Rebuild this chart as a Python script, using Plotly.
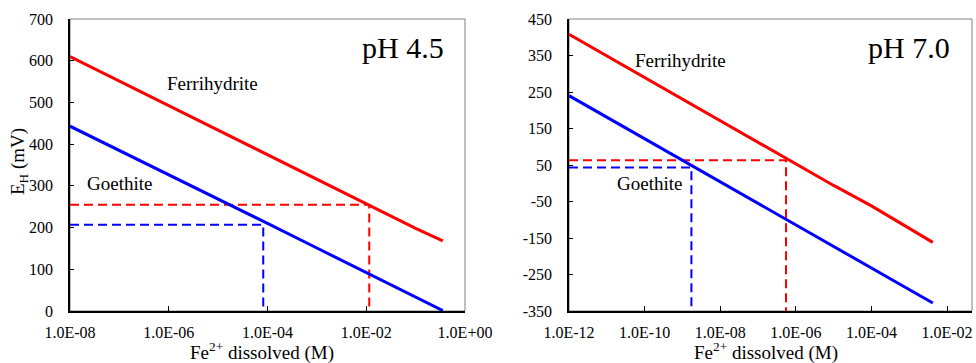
import plotly.graph_objects as go

# ---------------- data ----------------
# pH 4.5 panel
fe_45 = [1e-8, 1e-7, 1e-6, 1e-5, 1e-4, 1e-3, 1e-2, 1e-1, 0.355]
ferri_45 = [610, 551, 492, 433, 375, 316, 257, 198, 168]
goe_45 = [443, 385, 326, 268, 210, 151, 92, 34, 1]
ferri_45_pt = (0.0115, 255)
goe_45_pt = (8.2e-5, 207)

# pH 7.0 panel
fe_70 = [1e-12, 1e-11, 1e-10, 1e-9, 1e-8, 1e-7, 1e-6, 1e-5, 1e-4, 1e-3, 4.2e-3]
ferri_70 = [408, 349, 290, 230, 171, 112, 53, -6, -62, -124, -162]
goe_70 = [240, 181, 122, 63, 4, -55, -114, -172, -231, -290, -328]
ferri_70_pt = (5.5e-7, 63)
goe_70_pt = (1.73e-9, 43)

x45_ticks = [1e-8, 1e-6, 1e-4, 1e-2, 1e0]
x45_text = ["1.0E-08", "1.0E-06", "1.0E-04", "1.0E-02", "1.0E+00"]
x70_ticks = [1e-12, 1e-10, 1e-8, 1e-6, 1e-4, 1e-2]
x70_text = ["1.0E-12", "1.0E-10", "1.0E-08", "1.0E-06", "1.0E-04", "1.0E-02"]
y45_ticks = [0, 100, 200, 300, 400, 500, 600, 700]
y70_ticks = [-350, -250, -150, -50, 50, 150, 250, 350, 450]

RED = "#FF0000"
BLUE = "#0000FF"
FONT = "Liberation Serif, Times New Roman, serif"
W, H = 976, 363
T, B = 19, 52
PH = H - T - B

fig = go.Figure()

def solid(x, y, color, xa, ya):
    fig.add_trace(go.Scatter(x=x, y=y, mode="lines", line=dict(color=color, width=3),
                             xaxis=xa, yaxis=ya, showlegend=False, hoverinfo="skip"))

def dashed(xs, ys, color, xa, ya):
    fig.add_trace(go.Scatter(x=xs, y=ys, mode="lines",
                             line=dict(color=color, width=2, dash="9px,5px"),
                             xaxis=xa, yaxis=ya, showlegend=False, hoverinfo="skip"))

# left panel
dashed([fe_45[0], ferri_45_pt[0], ferri_45_pt[0]], [ferri_45_pt[1], ferri_45_pt[1], y45_ticks[0]], RED, "x", "y")
dashed([fe_45[0], goe_45_pt[0], goe_45_pt[0]], [goe_45_pt[1], goe_45_pt[1], y45_ticks[0]], BLUE, "x", "y")
solid(fe_45, ferri_45, RED, "x", "y")
solid(fe_45, goe_45, BLUE, "x", "y")

# right panel
dashed([fe_70[0], ferri_70_pt[0], ferri_70_pt[0]], [ferri_70_pt[1], ferri_70_pt[1], y70_ticks[0]], RED, "x2", "y2")
dashed([fe_70[0], goe_70_pt[0], goe_70_pt[0]], [goe_70_pt[1], goe_70_pt[1], y70_ticks[0]], BLUE, "x2", "y2")
solid(fe_70, ferri_70, RED, "x2", "y2")
solid(fe_70, goe_70, BLUE, "x2", "y2")

tickfont = dict(family=FONT, size=16, color="black")

def xaxis(dom, rng, tv, tt, anchor):
    return dict(domain=dom, type="log", range=rng, tickvals=tv, ticktext=tt,
                showline=True, linecolor="black", linewidth=1.5, mirror=False,
                ticks="inside", ticklen=5, tickcolor="black", tickwidth=1,
                showgrid=False, zeroline=False, tickfont=tickfont, anchor=anchor,
                ticklabelstandoff=6, automargin=False)

def yaxis(rng, tv, anchor):
    return dict(domain=[0, 1], range=rng, tickvals=tv, ticktext=[str(v) for v in tv],
                showline=True, linecolor="black", linewidth=1.5, mirror=False,
                ticks="inside", ticklen=4, tickcolor="black", tickwidth=1,
                showgrid=False, zeroline=False, tickfont=tickfont, anchor=anchor,
                ticklabelstandoff=12, automargin=False)

d1 = [70 / W, 465 / W]
d2 = [569 / W, 972 / W]

fig.update_layout(
    width=W, height=H,
    margin=dict(l=0, r=0, t=T, b=B, autoexpand=False),
    paper_bgcolor="white", plot_bgcolor="rgba(0,0,0,0)",
    font=dict(family=FONT, color="black"),
    xaxis=xaxis(d1, [-8, 0], x45_ticks, x45_text, "y"),
    yaxis=yaxis([0, 700], y45_ticks, "x"),
    xaxis2=xaxis(d2, [-12, -1.34], x70_ticks, x70_text, "y2"),
    yaxis2=yaxis([-350, 450], y70_ticks, "x2"),
)

# gray frame around each plot area
for xr, yr in (("x domain", "y domain"), ("x2 domain", "y2 domain")):
    fig.add_shape(type="rect", xref=xr, yref=yr, x0=0, x1=1, y0=0, y1=1,
                  line=dict(color="#808080", width=1), layer="below")

def ann(text, px, py, size, **kw):
    fig.add_annotation(text=text, xref="paper", yref="paper",
                       x=px / W, y=(H - B - py) / PH, showarrow=False,
                       font=dict(family=FONT, size=size, color="black"),
                       xanchor="center", yanchor="middle", **kw)

ann("pH 4.5", 403, 47, 30)
ann("pH 7.0", 909, 47, 30)
ann("Ferrihydrite", 212, 83, 19)
ann("Goethite", 119, 184, 19)
ann("Ferrihydrite", 680, 60, 19)
ann("Goethite", 649, 184, 19)
ann("Fe<sup>2+</sup> dissolved (M)", 262, 351, 19)
ann("Fe<sup>2+</sup> dissolved (M)", 766, 351, 19)
ann("E<sub>H</sub> (mV)", 19, 162, 19, textangle=-90)

fig.write_html("out.html")
